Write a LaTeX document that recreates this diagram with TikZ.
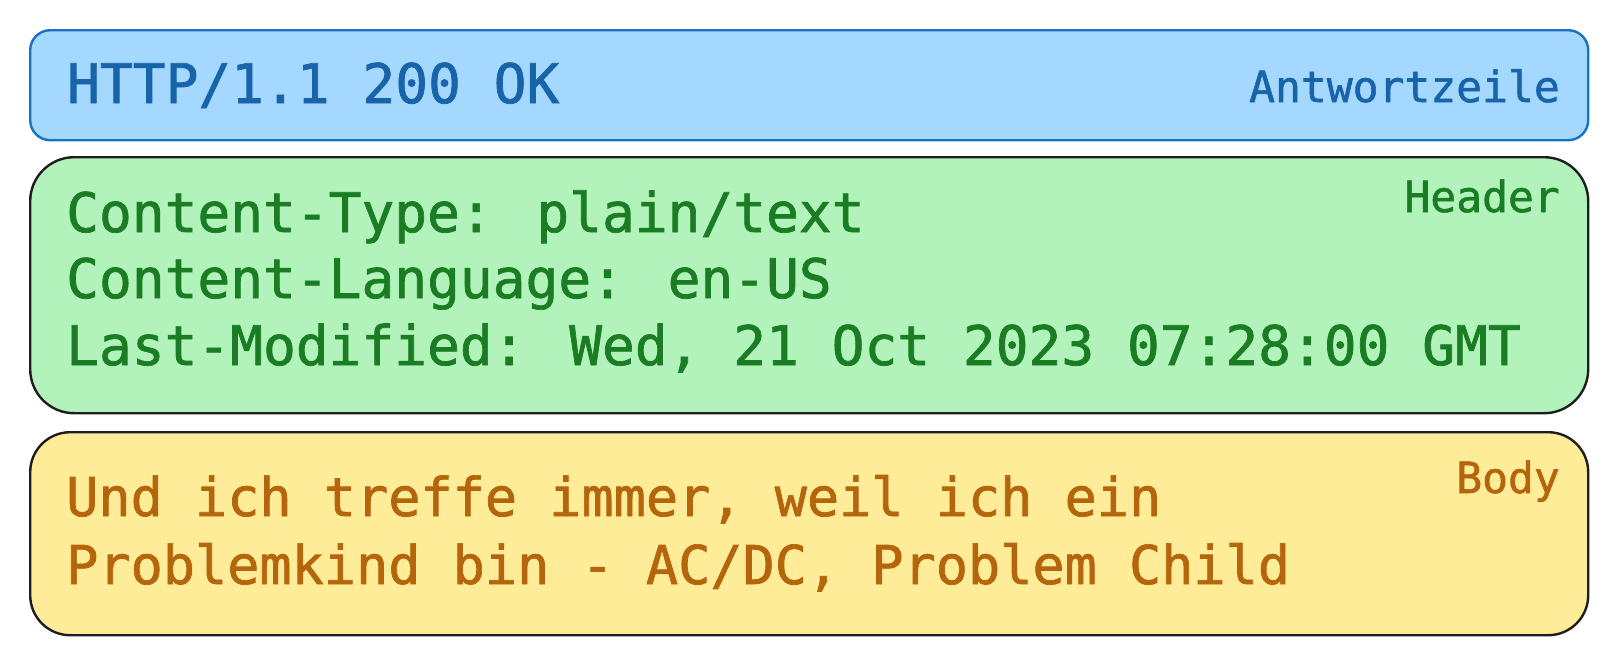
\documentclass[tikz,border=0pt]{standalone}
\usepackage{fontspec}
\usepackage{xcolor}
\newfontfamily\monofont[FakeBold=1.3]{DejaVu Sans Mono}
\definecolor{blueFill}{HTML}{A5D8FF}
\definecolor{blueLine}{HTML}{1971C2}
\definecolor{blueText}{HTML}{1864AB}
\definecolor{greenFill}{HTML}{B2F2BB}
\definecolor{greenText}{HTML}{1B7D23}
\definecolor{yellowFill}{HTML}{FFEC99}
\definecolor{orangeText}{HTML}{B5650B}
\definecolor{sketch}{HTML}{1E1E1E}

\begin{document}
\begin{tikzpicture}[x=1pt,y=-1pt,
 part/.style={anchor=north west, inner sep=0pt, minimum width=1558pt, line width=2.4pt},
 txt/.style={anchor=base west, inner sep=0pt, font=\monofont\fontsize{54.5}{65}\selectfont},
 kind/.style={anchor=base east, inner sep=0pt, font=\monofont\fontsize{43}{50}\selectfont}]
\useasboundingbox (0,0) rectangle (1608,656);

\node[part, draw=blueLine, fill=blueFill, rounded corners=20pt, minimum height=110pt] (zeile) at (29,29) {};
\node[part, draw=sketch, fill=greenFill, rounded corners=44pt, minimum height=256pt] (header) at (29,156) {};
\node[part, draw=sketch, fill=yellowFill, rounded corners=40pt, minimum height=203pt] (body) at (29,431) {};

\node[txt, text=blueText] (status) at (67,103) {HTTP/1.1 200 OK};
\foreach \y/\field [count=\i] in {232/{Content-Type: plain/text}, 298/{Content-Language: en-US}, 365/{Last-Modified: Wed, 21 Oct 2023 07:28:00 GMT}}
 \node[txt, text=greenText] (field\i) at (66,\y) {\field};
\foreach \y/\field [count=\i] in {516/{Und ich treffe immer, weil ich ein}, 584/{Problemkind bin - AC/DC, Problem Child}}
 \node[txt, text=orangeText, font=\monofont\fontsize{53.5}{64}\selectfont] (lyric\i) at (66,\y) {\field};

\node[kind, text=blueText] (zeileName) at (1560,102) {Antwortzeile};
\node[kind, text=greenText] (headerName) at (1560,212) {Header};
\node[kind, text=orangeText] (bodyName) at (1560,493) {Body};

\end{tikzpicture}
\end{document}
